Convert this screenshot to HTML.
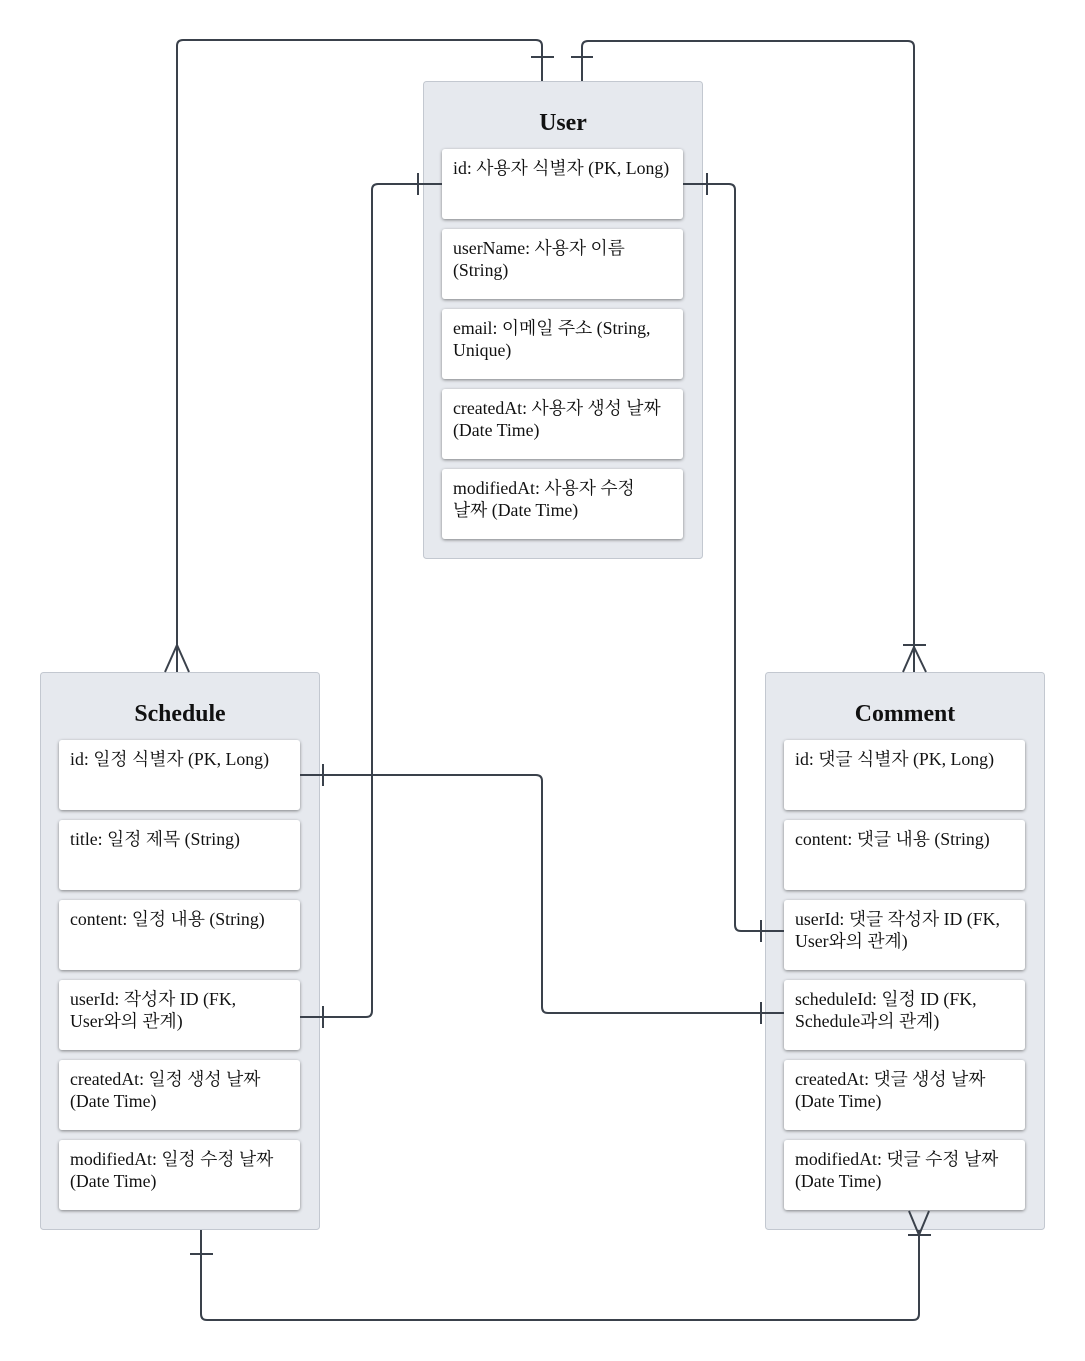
<!DOCTYPE html>
<html><head><meta charset="utf-8"><style>
html,body{margin:0;padding:0;background:#fff}
svg{display:block}
.t{font-family:"Liberation Serif","Noto Serif CJK SC","Noto Sans CJK KR",serif;font-size:17.8px;fill:#111}
.h{font-family:"Liberation Serif",serif;font-size:23.8px;font-weight:bold;fill:#111}
.ln{fill:none;stroke:#3a414b;stroke-width:2}
</style></head><body>
<svg width="1085" height="1361" viewBox="0 0 1085 1361" xmlns="http://www.w3.org/2000/svg">
<defs>
<filter id="sh" x="-5%" y="-10%" width="110%" height="130%"><feDropShadow dx="0" dy="1" stdDeviation="1.5" flood-color="#000" flood-opacity="0.45"/></filter>
</defs>
<rect x="423.5" y="81.5" width="279" height="477" rx="3" fill="#e6e9ee" stroke="#c3c8d0"/>
<rect x="40.5" y="672.5" width="279" height="557" rx="3" fill="#e6e9ee" stroke="#c3c8d0"/>
<rect x="765.5" y="672.5" width="279" height="557" rx="3" fill="#e6e9ee" stroke="#c3c8d0"/>
<text class="h" x="563" y="130" text-anchor="middle">User</text>
<text class="h" x="180" y="721" text-anchor="middle">Schedule</text>
<text class="h" x="905" y="721" text-anchor="middle">Comment</text>
<g fill="#fff" filter="url(#sh)">
<rect x="442" y="149" width="241" height="70" rx="3"/>
<rect x="442" y="229" width="241" height="70" rx="3"/>
<rect x="442" y="309" width="241" height="70" rx="3"/>
<rect x="442" y="389" width="241" height="70" rx="3"/>
<rect x="442" y="469" width="241" height="70" rx="3"/>
<rect x="59" y="740" width="241" height="70" rx="3"/>
<rect x="59" y="820" width="241" height="70" rx="3"/>
<rect x="59" y="900" width="241" height="70" rx="3"/>
<rect x="59" y="980" width="241" height="70" rx="3"/>
<rect x="59" y="1060" width="241" height="70" rx="3"/>
<rect x="59" y="1140" width="241" height="70" rx="3"/>
<rect x="784" y="740" width="241" height="70" rx="3"/>
<rect x="784" y="820" width="241" height="70" rx="3"/>
<rect x="784" y="900" width="241" height="70" rx="3"/>
<rect x="784" y="980" width="241" height="70" rx="3"/>
<rect x="784" y="1060" width="241" height="70" rx="3"/>
<rect x="784" y="1140" width="241" height="70" rx="3"/>
</g>
<g class="t">
<text x="453" y="174">id: 사용자 식별자 (PK, Long)</text>
<text x="453" y="254">userName: 사용자 이름</text><text x="453" y="276">(String)</text>
<text x="453" y="334">email: 이메일 주소 (String,</text><text x="453" y="356">Unique)</text>
<text x="453" y="414">createdAt: 사용자 생성 날짜</text><text x="453" y="436">(Date Time)</text>
<text x="453" y="494">modifiedAt: 사용자 수정</text><text x="453" y="516">날짜 (Date Time)</text>

<text x="70" y="765">id: 일정 식별자 (PK, Long)</text>
<text x="70" y="845">title: 일정 제목 (String)</text>
<text x="70" y="925">content: 일정 내용 (String)</text>
<text x="70" y="1005">userId: 작성자 ID (FK,</text><text x="70" y="1027">User와의 관계)</text>
<text x="70" y="1085">createdAt: 일정 생성 날짜</text><text x="70" y="1107">(Date Time)</text>
<text x="70" y="1165">modifiedAt: 일정 수정 날짜</text><text x="70" y="1187">(Date Time)</text>

<text x="795" y="765">id: 댓글 식별자 (PK, Long)</text>
<text x="795" y="845">content: 댓글 내용 (String)</text>
<text x="795" y="925">userId: 댓글 작성자 ID (FK,</text><text x="795" y="947">User와의 관계)</text>
<text x="795" y="1005">scheduleId: 일정 ID (FK,</text><text x="795" y="1027">Schedule과의 관계)</text>
<text x="795" y="1085">createdAt: 댓글 생성 날짜</text><text x="795" y="1107">(Date Time)</text>
<text x="795" y="1165">modifiedAt: 댓글 수정 날짜</text><text x="795" y="1187">(Date Time)</text>
</g>
<g class="ln">
<path d="M177 672 V46 Q177 40 183 40 H536 Q542 40 542 46 V81"/>
<path d="M531 57 H554"/>
<path d="M177 645 L165 672 M177 645 L189 672"/>
<path d="M582 81 V47 Q582 41 588 41 H908 Q914 41 914 47 V672"/>
<path d="M571 57 H593"/>
<path d="M903 645 H926 M914 647 L903 672 M914 647 L926 672"/>
<path d="M442 184 H378 Q372 184 372 190 V1011 Q372 1017 366 1017 H300"/>
<path d="M418 173 V195 M323 1006 V1028"/>
<path d="M683 184 H729 Q735 184 735 190 V925 Q735 931 741 931 H784"/>
<path d="M707 173 V195 M761 920 V942"/>
<path d="M300 775 H536 Q542 775 542 781 V1007 Q542 1013 548 1013 H784"/>
<path d="M323 764 V786 M761 1002 V1024"/>
<path d="M201 1230 V1314 Q201 1320 207 1320 H913 Q919 1320 919 1314 V1230"/>
<path d="M190 1254 H213"/>
<path d="M908 1235 H931 M919 1235 L909 1211 M919 1235 L929 1211"/>
</g>
</svg>
</body></html>
